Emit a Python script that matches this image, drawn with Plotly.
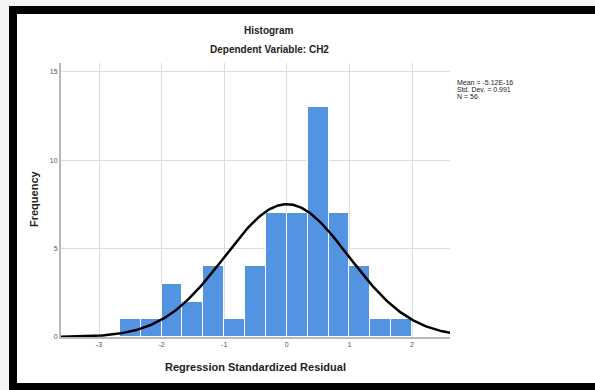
import numpy as np
import plotly.graph_objects as go

# Histogram of regression standardized residuals (bin width 1/3)
bin_start = -8 / 3
bin_width = 1 / 3
counts = [1, 1, 3, 2, 4, 1, 4, 7, 7, 13, 7, 4, 1, 1]

# Summary statistics shown in the side note
mean_val = -5.12e-16
std_dev = 0.991
n_obs = 56

x_ticks = [-3, -2, -1, 0, 1, 2]
y_ticks = [0, 5, 10, 15]

W, H = 595, 390
ML, MR, MT, MB = 61, 145, 63, 53
PW, PH = W - ML - MR, H - MT - MB


def px_x(px):
    return (px - ML) / PW


def px_y(py):
    return (H - MB - py) / PH


centers = [bin_start + bin_width * (i + 0.5) for i in range(len(counts))]

# Fitted normal curve scaled to the histogram's frequency units
xs = np.linspace(-3.61, 2.61, 300)
ys = n_obs * bin_width * np.exp(-0.5 * ((xs - mean_val) / std_dev) ** 2) / (std_dev * np.sqrt(2 * np.pi))

fig = go.Figure()
fig.add_trace(go.Bar(
    x=centers, y=counts, width=bin_width,
    marker=dict(color="#5294e2", line=dict(color="white", width=1)),
    hoverinfo="skip",
))
fig.add_trace(go.Scatter(
    x=xs, y=ys, mode="lines",
    line=dict(color="black", width=2.5),
    hoverinfo="skip",
))

font = "Liberation Sans, Arial, sans-serif"
fig.update_layout(
    width=W, height=H,
    margin=dict(l=ML, r=MR, t=MT, b=MB),
    paper_bgcolor="#f4f4f4",
    plot_bgcolor="white",
    showlegend=False,
    bargap=0,
    font=dict(family=font, color="#333"),
    xaxis=dict(
        range=[-3.607, 2.607], tickvals=x_ticks, ticktext=[str(v) for v in x_ticks],
        showgrid=True, gridcolor="#dddddd", gridwidth=1, zeroline=False,
        showline=True, linecolor="#b8b8b8", linewidth=2,
        ticks="", tickfont=dict(size=7, color="#555"),
    ),
    yaxis=dict(
        range=[0, 15.5], tickvals=y_ticks, ticktext=[str(v) for v in y_ticks],
        showgrid=True, gridcolor="#dddddd", gridwidth=1, zeroline=False,
        showline=True, linecolor="#b8b8b8", linewidth=2,
        ticks="", tickfont=dict(size=7, color="#555"),
    ),
)

# White card with a heavy black frame
fig.add_shape(
    type="rect", xref="paper", yref="paper", layer="below",
    x0=px_x(13), x1=px_x(600), y0=px_y(387), y1=px_y(10),
    line=dict(color="black", width=8), fillcolor="white",
)

annotations = [
    dict(text="<b>Histogram</b>", x=px_x(269), y=px_y(31), size=10, angle=0, xa="center"),
    dict(text="<b>Dependent Variable: CH2</b>", x=px_x(269), y=px_y(50), size=10, angle=0, xa="center"),
    dict(text="<b>Regression Standardized Residual</b>", x=px_x(256), y=px_y(367), size=11, angle=0, xa="center"),
    dict(text="<b>Frequency</b>", x=px_x(34), y=px_y(199), size=11, angle=-90, xa="center"),
    dict(text="Mean = -5.12E-16", x=px_x(455), y=px_y(82), size=7, angle=0, xa="left"),
    dict(text=f"Std. Dev. = {std_dev}", x=px_x(455), y=px_y(89.5), size=7, angle=0, xa="left"),
    dict(text=f"N = {n_obs}", x=px_x(455), y=px_y(97), size=7, angle=0, xa="left"),
]
for a in annotations:
    fig.add_annotation(
        text=a["text"], x=a["x"], y=a["y"], xref="paper", yref="paper",
        xanchor=a["xa"], yanchor="middle", showarrow=False, textangle=a["angle"],
        font=dict(size=a["size"], color="#222", family=font),
    )

fig.write_html("out.html")
